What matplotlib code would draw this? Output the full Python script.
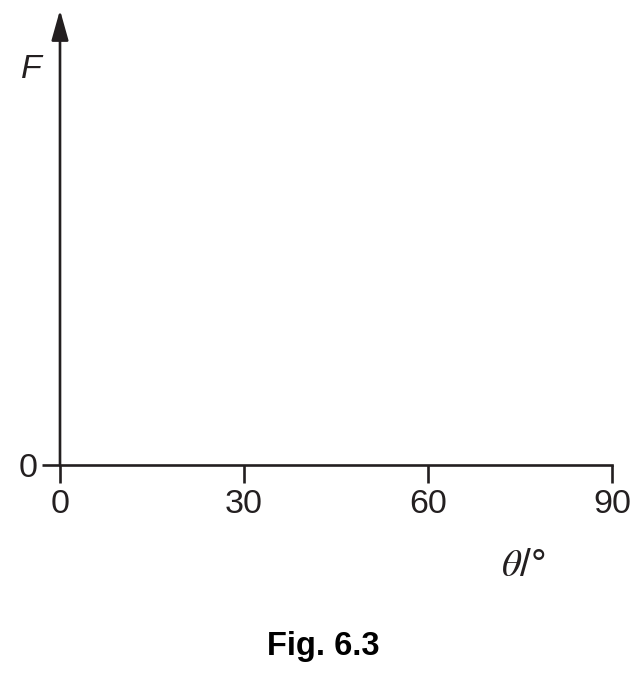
import matplotlib.pyplot as plt

# axis values
x_ticks = [0, 30, 60, 90]
x_tick_labels = ['0', '30', '60', '90']
y_ticks = [0]
y_tick_labels = ['0']

W, H = 644, 682
plt.rcParams['font.family'] = ['Liberation Sans', 'DejaVu Sans']
plt.rcParams['mathtext.fontset'] = 'stix'

fig = plt.figure(figsize=(W / 100, H / 100), dpi=100)
# axes box in pixel terms: left 60, right 612, bottom (x-axis) 465, top (arrow tip) 10
ax = fig.add_axes([60 / W, 1 - 465 / H, (612 - 60) / W, (465 - 10) / H])
ax.set_xlim(x_ticks[0], x_ticks[-1])
ax.set_ylim(0, 1)

lw = 1.9
for side in ['top', 'right', 'left']:
    ax.spines[side].set_visible(False)
ax.spines['bottom'].set_linewidth(lw)
ax.spines['bottom'].set_color('#231f20')

ax.set_xticks(x_ticks)
ax.set_xticklabels(x_tick_labels)
ax.set_yticks(y_ticks)
ax.set_yticklabels(y_tick_labels)
ax.tick_params(axis='both', direction='out', length=13, width=lw,
               color='#231f20', labelsize=24.5, labelcolor='#231f20')
ax.tick_params(axis='x', pad=4)
ax.tick_params(axis='y', pad=3)

# vertical axis with arrow head
ax.annotate('', xy=(0, 1), xytext=(0, 0), xycoords='axes fraction',
            textcoords='axes fraction',
            arrowprops=dict(arrowstyle='-|>,head_length=18.5,head_width=5.2',
                            mutation_scale=1, lw=lw, color='#231f20',
                            shrinkA=0, shrinkB=0),
            annotation_clip=False)

fig.text(31 / W, 1 - 70 / H, 'F', fontsize=24.5, style='italic',
         ha='center', va='center', color='#231f20')
fig.text(523 / W, 1 - 566 / H, r'$\theta$/°', fontsize=28,
         ha='center', va='center', color='#231f20')
fig.text(323 / W, 1 - 646 / H, 'Fig. 6.3', fontsize=23.5, fontweight='bold',
         ha='center', va='center', color='black')

fig.savefig('out.png', dpi=100)
